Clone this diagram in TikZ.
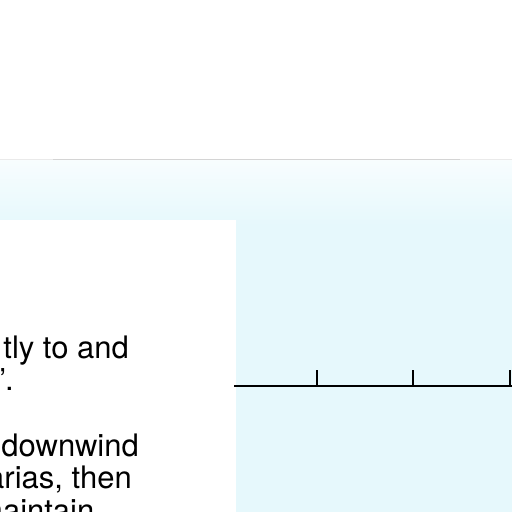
\documentclass[tikz,border=0pt]{standalone}
\usepackage{fontspec}
\setmainfont{TeX Gyre Heros}
\usepackage{xcolor}
\definecolor{skycyan}{HTML}{E6F8FC}
\definecolor{rulegray}{HTML}{D4D4D4}
\tikzset{>=latex,
  txt/.style={font=\fontsize{31}{33}\selectfont, inner sep=0pt},
  tick/.style={line width=1.5pt}
}

\begin{document}
\begin{tikzpicture}[x=1pt,y=-1pt]
\useasboundingbox (0,0) rectangle (512,512);
\fill[white] (0,0) rectangle (512,160);
\shade[top color=white!70!skycyan, bottom color=skycyan] (0,160) rectangle (512,225);
\fill[skycyan] (0,225) rectangle (512,512);
\draw[rulegray!50, line width=1pt] (0,159.5)--(53,159.5);
\draw[rulegray, line width=1pt] (53,159.5)--(460,159.5);
\draw[rulegray!50, line width=1pt] (460,159.5)--(512,159.5);
\fill[white] (0,220) rectangle (236,512);
\coordinate (axl) at (234,386);
\coordinate (axr) at (512,386);
\draw[tick] (axl)--(axr);
\foreach \x in {317,413,510} \draw[tick] (\x,386)--(\x,370);
\node[txt, anchor=base east] (l1) at (129,358) {tly to and};
\node[txt, anchor=base east] (l2) at (14,390) {”.};
\node[txt, anchor=base east] (l3) at (139,456) {downwind};
\node[txt, anchor=base east] (l4) at (132,488) {arias, then};
\node[txt, anchor=base west] (l5) at (-23,521) {maintain};
\end{tikzpicture}
\end{document}
